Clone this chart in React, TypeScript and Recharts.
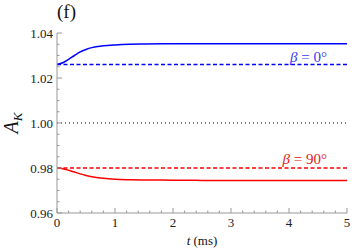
import React from "react";
import { LineChart, Line, XAxis, YAxis, ReferenceLine } from "recharts";

// time in ms
const tValues = [0, 0.1, 0.2, 0.3, 0.4, 0.5, 0.6, 0.8, 1.0, 1.25, 1.5, 2, 2.5, 3, 4, 5];
// beta = 0 deg, solid blue
const akBeta0 = [1.026, 1.0268, 1.0283, 1.03, 1.0316, 1.0327, 1.0335, 1.0343, 1.0347, 1.035, 1.0351, 1.0352, 1.0352, 1.0352, 1.0352, 1.0352];
// beta = 90 deg, solid red
const akBeta90 = [0.98, 0.9797, 0.979, 0.9782, 0.9774, 0.9767, 0.9761, 0.9754, 0.975, 0.9748, 0.9747, 0.9746, 0.9745, 0.9745, 0.9745, 0.9745];

const dashedBeta0 = 1.026;
const dashedBeta90 = 0.98;
const unity = 1.0;

const xMajor = [0, 1, 2, 3, 4, 5];
const yMajor = [0.96, 0.98, 1.0, 1.02, 1.04];

const xTicks: number[] = [];
for (let i = 0; i <= 25; i++) xTicks.push(Math.round(i * 20) / 100);
const yTicks: number[] = [];
for (let i = 0; i <= 16; i++) yTicks.push(Math.round((0.96 + i * 0.005) * 1000) / 1000);

const data = tValues.map((t, i) => ({ t, b0: akBeta0[i], b90: akBeta90[i] }));

const FONT = "Liberation Serif, DejaVu Serif, serif";
const FRAME = "#999";
const BLUE = "#0000ff";
const RED = "#ff0000";

const isMajorX = (v: number) => xMajor.some((m) => Math.abs(m - v) < 1e-6);
const isMajorY = (v: number) => yMajor.some((m) => Math.abs(m - v) < 1e-6);

function BottomTick(props: any) {
  const { x, y, payload } = props;
  const major = isMajorX(payload.value);
  return (
    <g>
      <line x1={x} x2={x} y1={y} y2={y - (major ? 5 : 2.5)} stroke={FRAME} />
      {major && (
        <text x={x} y={y + 14} textAnchor="middle" style={{ fontFamily: FONT, fontSize: 13 }} fill="#222">
          {payload.value}
        </text>
      )}
    </g>
  );
}

function TopTick(props: any) {
  const { x, y, payload } = props;
  const major = isMajorX(payload.value);
  return <line x1={x} x2={x} y1={y} y2={y + (major ? 5 : 2.5)} stroke={FRAME} />;
}

function LeftTick(props: any) {
  const { x, y, payload } = props;
  const major = isMajorY(payload.value);
  return (
    <g>
      <line x1={x} x2={x + (major ? 5 : 2.5)} y1={y} y2={y} stroke={FRAME} />
      {major && (
        <text x={x - 4} y={y + 4.5} textAnchor="end" style={{ fontFamily: FONT, fontSize: 13 }} fill="#222">
          {payload.value.toFixed(2)}
        </text>
      )}
    </g>
  );
}

function RightTick(props: any) {
  const { x, y, payload } = props;
  const major = isMajorY(payload.value);
  return <line x1={x} x2={x - (major ? 5 : 2.5)} y1={y} y2={y} stroke={FRAME} />;
}

const betaLabel = (deg: string, color: string, lift: number) => (p: any) => {
  const vb = p.viewBox;
  return (
    <text x={vb.x + vb.width - 20} y={vb.y - lift} textAnchor="end" style={{ fontFamily: FONT, fontSize: 15 }} fill={color}>
      <tspan fontStyle="italic">β</tspan>
      <tspan> = {deg}°</tspan>
    </text>
  );
};

export default function App() {
  return (
    <div style={{ position: "relative", width: 354, height: 250 }}>
      <style>{`body{margin:0}`}</style>
      <LineChart width={354} height={250} data={data} margin={{ top: 33, right: 7, bottom: 0, left: 0 }}>
        <XAxis
          xAxisId="b"
          dataKey="t"
          type="number"
          domain={[0, 5]}
          ticks={xTicks}
          interval={0}
          tick={<BottomTick />}
          tickLine={false}
          tickSize={0}
          tickMargin={0}
          height={37}
          stroke={FRAME}
        />
        <XAxis
          xAxisId="top"
          orientation="top"
          dataKey="t"
          type="number"
          domain={[0, 5]}
          ticks={xTicks}
          interval={0}
          tick={<TopTick />}
          tickLine={false}
          tickSize={0}
          tickMargin={0}
          height={0}
          stroke={FRAME}
        />
        <YAxis
          yAxisId="l"
          type="number"
          domain={[0.96, 1.04]}
          ticks={yTicks}
          interval={0}
          allowDataOverflow
          tick={<LeftTick />}
          tickLine={false}
          tickSize={0}
          tickMargin={0}
          width={57}
          stroke={FRAME}
        />
        <YAxis
          yAxisId="r"
          orientation="right"
          type="number"
          domain={[0.96, 1.04]}
          ticks={yTicks}
          interval={0}
          allowDataOverflow
          tick={<RightTick />}
          tickLine={false}
          tickSize={0}
          tickMargin={0}
          width={0}
          stroke={FRAME}
        />
        <ReferenceLine xAxisId="b" yAxisId="l" y={unity} stroke="#000" strokeDasharray="1 3" strokeWidth={1.2} />
        <ReferenceLine
          xAxisId="b"
          yAxisId="l"
          y={dashedBeta0}
          stroke={BLUE}
          strokeDasharray="4 2.5"
          strokeWidth={1.5}
          label={betaLabel("0", "#3b3bf0", 3)}
        />
        <ReferenceLine
          xAxisId="b"
          yAxisId="l"
          y={dashedBeta90}
          stroke={RED}
          strokeDasharray="4 2.5"
          strokeWidth={1.5}
          label={betaLabel("90", "#e02020", 4)}
        />
        <Line xAxisId="b" yAxisId="l" type="monotone" dataKey="b0" stroke={BLUE} strokeWidth={1.5} dot={false} isAnimationActive={false} />
        <Line xAxisId="b" yAxisId="l" type="monotone" dataKey="b90" stroke={RED} strokeWidth={1.5} dot={false} isAnimationActive={false} />
      </LineChart>
      <svg width={354} height={250} style={{ position: "absolute", left: 0, top: 0, pointerEvents: "none" }}>
        <text x={57} y={18} style={{ fontFamily: FONT, fontSize: 19 }} fill="#111">(f)</text>
        <text transform="translate(18,123) rotate(-90)" textAnchor="middle" style={{ fontFamily: FONT, fontSize: 20 }} fill="#111">
          <tspan fontStyle="italic">A</tspan>
          <tspan fontStyle="italic" fontSize={13} dy={4}>K</tspan>
        </text>
        <text x={202} y={245} textAnchor="middle" style={{ fontFamily: FONT, fontSize: 13 }} fill="#111">
          <tspan fontStyle="italic">t</tspan>
          <tspan> (ms)</tspan>
        </text>
      </svg>
    </div>
  );
}
